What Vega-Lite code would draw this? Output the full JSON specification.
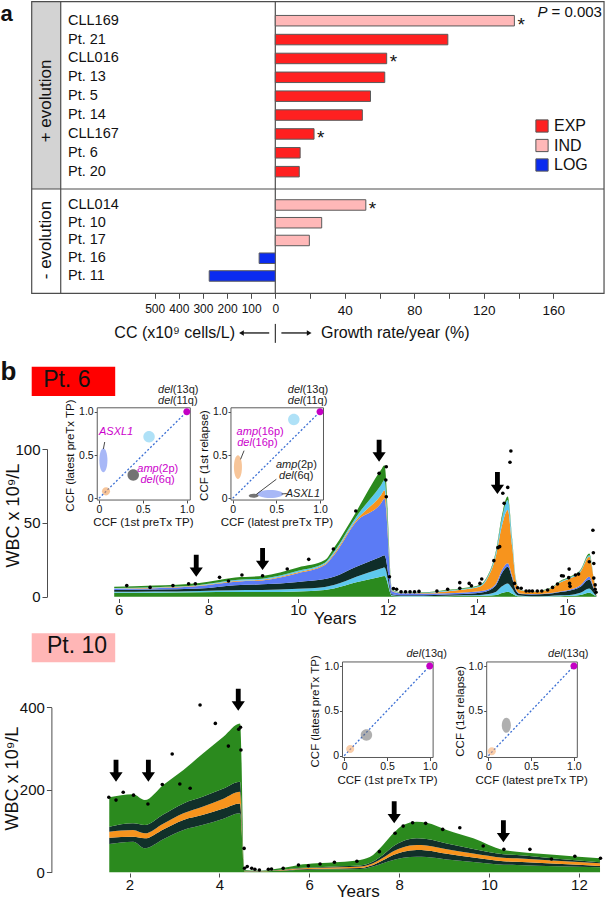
{
 "$schema": "https://vega.github.io/schema/vega-lite/v6.json",
 "width": 607, "height": 900,
 "autosize": {"type": "none"},
 "padding": 0,
 "background": "white",
 "config": {
   "view": {"stroke": null},
   "font": "Liberation Sans",
   "axis": {"grid": false, "domainColor": "#4d4d4d", "tickColor": "#4d4d4d", "labelColor": "#111111", "titleColor": "#111111", "titleFontWeight": "normal", "labelFont": "Liberation Sans", "titleFont": "Liberation Sans", "domainWidth": 1, "tickWidth": 1, "labelOverlap": false, "labelFlush": false},
   "text": {"color": "#111111"}
 },
 "datasets": {
   "rates": [
     {"name": "CLL169", "group": "+ evolution", "type": "IND", "growth": 137.6, "cc": null, "sig": "*"},
     {"name": "Pt. 21", "group": "+ evolution", "type": "EXP", "growth": 99.3, "cc": null, "sig": ""},
     {"name": "CLL016", "group": "+ evolution", "type": "EXP", "growth": 64.1, "cc": null, "sig": "*"},
     {"name": "Pt. 13", "group": "+ evolution", "type": "EXP", "growth": 63.0, "cc": null, "sig": ""},
     {"name": "Pt. 5", "group": "+ evolution", "type": "EXP", "growth": 54.8, "cc": null, "sig": ""},
     {"name": "Pt. 14", "group": "+ evolution", "type": "EXP", "growth": 50.1, "cc": null, "sig": ""},
     {"name": "CLL167", "group": "+ evolution", "type": "EXP", "growth": 22.3, "cc": null, "sig": "*"},
     {"name": "Pt. 6", "group": "+ evolution", "type": "EXP", "growth": 14.3, "cc": null, "sig": ""},
     {"name": "Pt. 20", "group": "+ evolution", "type": "EXP", "growth": 13.8, "cc": null, "sig": ""},
     {"name": "CLL014", "group": "- evolution", "type": "IND", "growth": 52.1, "cc": null, "sig": "*"},
     {"name": "Pt. 10", "group": "- evolution", "type": "IND", "growth": 26.7, "cc": null, "sig": ""},
     {"name": "Pt. 17", "group": "- evolution", "type": "IND", "growth": 19.6, "cc": null, "sig": ""},
     {"name": "Pt. 16", "group": "- evolution", "type": "LOG", "growth": null, "cc": 67, "sig": ""},
     {"name": "Pt. 11", "group": "- evolution", "type": "LOG", "growth": null, "cc": 274, "sig": ""}
   ],
   "pt6_clones": [
     {"t": 5.9, "L1": 2.6, "L2": 0.7, "L3": 1.2, "L4": 0.8, "L5": 0.2, "L6": 0.4, "L7": 0.9},
     {"t": 6.8, "L1": 2.7, "L2": 0.75, "L3": 1.35, "L4": 1.0, "L5": 0.2, "L6": 0.45, "L7": 1.05},
     {"t": 7.8, "L1": 3.0, "L2": 0.9, "L3": 1.6, "L4": 1.8, "L5": 0.2, "L6": 0.45, "L7": 1.35},
     {"t": 8.6, "L1": 3.2, "L2": 1.2, "L3": 3.4, "L4": 2.4, "L5": 0.4, "L6": 0.7, "L7": 1.7},
     {"t": 9.2, "L1": 3.2, "L2": 1.35, "L3": 3.8, "L4": 2.7, "L5": 0.45, "L6": 0.7, "L7": 1.8},
     {"t": 10.0, "L1": 3.6, "L2": 1.8, "L3": 4.6, "L4": 5.9, "L5": 0.6, "L6": 1.0, "L7": 2.3},
     {"t": 10.6, "L1": 4.6, "L2": 2.0, "L3": 5.3, "L4": 9.5, "L5": 0.7, "L6": 0.9, "L7": 1.8},
     {"t": 10.8, "L1": 5.6, "L2": 2.3, "L3": 5.6, "L4": 14.5, "L5": 1.1, "L6": 1.1, "L7": 2.8},
     {"t": 11.3, "L1": 9.7, "L2": 3.8, "L3": 6.8, "L4": 30.5, "L5": 1.1, "L6": 2.3, "L7": 3.4},
     {"t": 11.85, "L1": 13.5, "L2": 5.6, "L3": 7.9, "L4": 36.1, "L5": 5.6, "L6": 6.8, "L7": 10.2},
     {"t": 11.93, "L1": 14.0, "L2": 5.8, "L3": 8.2, "L4": 38.5, "L5": 5.5, "L6": 7.0, "L7": 10.0},
     {"t": 12.1, "L1": 0.5, "L2": 0.4, "L3": 0.8, "L4": 2.0, "L5": 0.3, "L6": 0.3, "L7": 0.5},
     {"t": 12.3, "L1": 0.2, "L2": 0.3, "L3": 0.5, "L4": 1.3, "L5": 0.2, "L6": 0.2, "L7": 0.3},
     {"t": 12.8, "L1": 0.2, "L2": 0.3, "L3": 0.5, "L4": 1.2, "L5": 0.3, "L6": 0.2, "L7": 0.3},
     {"t": 13.3, "L1": 0.3, "L2": 0.4, "L3": 0.8, "L4": 0.9, "L5": 1.2, "L6": 0.4, "L7": 0.5},
     {"t": 13.7, "L1": 0.4, "L2": 0.5, "L3": 1.0, "L4": 0.9, "L5": 2.0, "L6": 0.5, "L7": 0.6},
     {"t": 14.05, "L1": 0.5, "L2": 0.7, "L3": 1.5, "L4": 1.0, "L5": 3.0, "L6": 0.7, "L7": 0.5},
     {"t": 14.2, "L1": 0.6, "L2": 1.0, "L3": 2.0, "L4": 0.9, "L5": 6.5, "L6": 1.0, "L7": 0.5},
     {"t": 14.42, "L1": 1.1, "L2": 2.3, "L3": 4.5, "L4": 1.1, "L5": 19.2, "L6": 2.3, "L7": 1.1},
     {"t": 14.55, "L1": 2.5, "L2": 4.5, "L3": 9.0, "L4": 2.0, "L5": 30.0, "L6": 5.0, "L7": 2.0},
     {"t": 14.68, "L1": 3.4, "L2": 5.6, "L3": 11.3, "L4": 2.3, "L5": 36.1, "L6": 6.8, "L7": 2.3},
     {"t": 14.78, "L1": 2.0, "L2": 3.5, "L3": 7.0, "L4": 1.5, "L5": 20.0, "L6": 3.5, "L7": 1.5},
     {"t": 14.86, "L1": 0.7, "L2": 1.2, "L3": 2.5, "L4": 0.6, "L5": 6.0, "L6": 1.0, "L7": 0.5},
     {"t": 14.95, "L1": 0.3, "L2": 0.5, "L3": 1.0, "L4": 0.4, "L5": 2.3, "L6": 0.3, "L7": 0.2},
     {"t": 15.2, "L1": 0.1, "L2": 0.2, "L3": 1.2, "L4": 0.3, "L5": 1.5, "L6": 0.1, "L7": 0.1},
     {"t": 15.6, "L1": 0.2, "L2": 0.3, "L3": 1.5, "L4": 0.4, "L5": 2.5, "L6": 0.3, "L7": 0.3},
     {"t": 15.85, "L1": 0.3, "L2": 0.6, "L3": 2.2, "L4": 0.5, "L5": 6.0, "L6": 0.6, "L7": 0.5},
     {"t": 16.05, "L1": 0.4, "L2": 0.8, "L3": 2.8, "L4": 0.6, "L5": 7.5, "L6": 0.7, "L7": 0.5},
     {"t": 16.3, "L1": 1.2, "L2": 1.5, "L3": 4.0, "L4": 1.0, "L5": 9.0, "L6": 0.8, "L7": 0.5},
     {"t": 16.5, "L1": 2.7, "L2": 2.9, "L3": 6.1, "L4": 1.8, "L5": 13.5, "L6": 1.1, "L7": 1.1},
     {"t": 16.6, "L1": 1.2, "L2": 1.2, "L3": 3.0, "L4": 0.8, "L5": 6.0, "L6": 0.5, "L7": 0.5},
     {"t": 16.66, "L1": 0.1, "L2": 0.1, "L3": 0.2, "L4": 0.1, "L5": 0.3, "L6": 0.05, "L7": 0.05}
   ],
   "pt6_wbc": [
     {"t": 6.18, "wbc": 7.5}, {"t": 6.70, "wbc": 6.3}, {"t": 7.21, "wbc": 7.5}, {"t": 7.56, "wbc": 8.8}, {"t": 7.71, "wbc": 8.8},
     {"t": 8.25, "wbc": 13.1}, {"t": 8.45, "wbc": 10.6}, {"t": 8.75, "wbc": 14.7}, {"t": 9.21, "wbc": 14.2}, {"t": 9.76, "wbc": 18.8},
     {"t": 10.24, "wbc": 25.3}, {"t": 10.79, "wbc": 32.3}, {"t": 11.29, "wbc": 58}, {"t": 11.81, "wbc": 83.5}, {"t": 11.97, "wbc": 88},
     {"t": 11.96, "wbc": 79}, {"t": 11.97, "wbc": 67.7}, {"t": 12.04, "wbc": 13.5}, {"t": 12.13, "wbc": 5.6}, {"t": 12.2, "wbc": 5},
     {"t": 12.3, "wbc": 3.4}, {"t": 12.4, "wbc": 3.4}, {"t": 12.5, "wbc": 3.4}, {"t": 12.6, "wbc": 3.4}, {"t": 12.7, "wbc": 3.6},
     {"t": 13.1, "wbc": 3.8}, {"t": 13.34, "wbc": 5.0}, {"t": 13.61, "wbc": 5.7}, {"t": 13.61, "wbc": 9.5}, {"t": 13.82, "wbc": 9.0},
     {"t": 13.87, "wbc": 7.4}, {"t": 14.06, "wbc": 9.0}, {"t": 14.1, "wbc": 12}, {"t": 14.37, "wbc": 24.4}, {"t": 14.46, "wbc": 33.2},
     {"t": 14.5, "wbc": 33.9}, {"t": 14.57, "wbc": 70}, {"t": 14.6, "wbc": 63.2}, {"t": 14.68, "wbc": 74}, {"t": 14.73, "wbc": 91},
     {"t": 14.75, "wbc": 98.6}, {"t": 14.83, "wbc": 9}, {"t": 14.9, "wbc": 6.1}, {"t": 14.98, "wbc": 5.7}, {"t": 15.09, "wbc": 3.9},
     {"t": 15.16, "wbc": 3.9}, {"t": 15.23, "wbc": 3.9}, {"t": 15.34, "wbc": 3.9}, {"t": 15.44, "wbc": 3.9}, {"t": 15.57, "wbc": 4.5},
     {"t": 15.68, "wbc": 6.3}, {"t": 15.79, "wbc": 8.6}, {"t": 15.88, "wbc": 14.2}, {"t": 15.92, "wbc": 14.0}, {"t": 16.04, "wbc": 12.9},
     {"t": 16.05, "wbc": 18.7}, {"t": 16.06, "wbc": 9}, {"t": 16.07, "wbc": 7}, {"t": 16.19, "wbc": 14.7}, {"t": 16.26, "wbc": 15.3},
     {"t": 16.5, "wbc": 23.7}, {"t": 16.58, "wbc": 45}, {"t": 16.59, "wbc": 29.8}, {"t": 16.6, "wbc": 22.5}, {"t": 16.6, "wbc": 12.6},
     {"t": 16.63, "wbc": 8}, {"t": 16.63, "wbc": 5}, {"t": 16.65, "wbc": 3}
   ],
   "pt10_clones": [
     {"t": 1.55, "L1": 68.6, "L2": 15.4, "L3": 14.4, "L4": 12.1, "L5": 71.3},
     {"t": 2.08, "L1": 74.2, "L2": 12.1, "L3": 16.2, "L4": 16.3, "L5": 70.2},
     {"t": 2.34, "L1": 58.2, "L2": 24.2, "L3": 12.1, "L4": 20.2, "L5": 60.3},
     {"t": 2.75, "L1": 80, "L2": 24, "L3": 14, "L4": 22, "L5": 71.6},
     {"t": 3.2, "L1": 102.5, "L2": 24.5, "L3": 16, "L4": 24, "L5": 81},
     {"t": 3.64, "L1": 115, "L2": 24.5, "L3": 20, "L4": 24, "L5": 105},
     {"t": 4.09, "L1": 130, "L2": 24.5, "L3": 24, "L4": 24.5, "L5": 125.7},
     {"t": 4.46, "L1": 143, "L2": 24, "L3": 28, "L4": 24.6, "L5": 141.4},
     {"t": 4.56, "L1": 2, "L2": 0.5, "L3": 0.6, "L4": 0.5, "L5": 2},
     {"t": 4.9, "L1": 1.5, "L2": 0.4, "L3": 0.6, "L4": 0.4, "L5": 1.1},
     {"t": 5.2, "L1": 3, "L2": 0.6, "L3": 0.8, "L4": 0.6, "L5": 2.3},
     {"t": 5.5, "L1": 4, "L2": 1, "L3": 1.5, "L4": 1, "L5": 4.5},
     {"t": 5.76, "L1": 6, "L2": 1.2, "L3": 2, "L4": 1.2, "L5": 7.4},
     {"t": 6.17, "L1": 7, "L2": 1.5, "L3": 2.5, "L4": 1.5, "L5": 9.3},
     {"t": 6.68, "L1": 7.5, "L2": 2, "L3": 3, "L4": 2, "L5": 10.5},
     {"t": 7.13, "L1": 8, "L2": 2.5, "L3": 3.5, "L4": 2.5, "L5": 13.5},
     {"t": 7.42, "L1": 14, "L2": 4, "L3": 4, "L4": 4, "L5": 16},
     {"t": 7.64, "L1": 22, "L2": 7, "L3": 6, "L4": 7, "L5": 24},
     {"t": 7.87, "L1": 30, "L2": 12, "L3": 9, "L4": 12, "L5": 31.5},
     {"t": 8.09, "L1": 35, "L2": 15, "L3": 11, "L4": 15, "L5": 38.7},
     {"t": 8.39, "L1": 37.8, "L2": 16.2, "L3": 12, "L4": 16.4, "L5": 40.4},
     {"t": 8.61, "L1": 37, "L2": 16, "L3": 12, "L4": 16, "L5": 39},
     {"t": 9.06, "L1": 31, "L2": 14, "L3": 11, "L4": 14, "L5": 32.5},
     {"t": 9.65, "L1": 25, "L2": 11, "L3": 9.5, "L4": 11, "L5": 25.8},
     {"t": 10.32, "L1": 18.5, "L2": 8.5, "L3": 8.5, "L4": 8.5, "L5": 10},
     {"t": 10.62, "L1": 17.7, "L2": 8, "L3": 8.3, "L4": 8, "L5": 8},
     {"t": 11.51, "L1": 14.5, "L2": 6, "L3": 7.5, "L4": 5, "L5": 9},
     {"t": 12.47, "L1": 12, "L2": 3.3, "L3": 6.5, "L4": 2.4, "L5": 9.8}
   ],
   "pt10_wbc": [
     {"t": 1.54, "wbc": 181.8}, {"t": 1.70, "wbc": 175}, {"t": 1.86, "wbc": 194}, {"t": 2.09, "wbc": 187}, {"t": 2.41, "wbc": 165.6},
     {"t": 2.73, "wbc": 213}, {"t": 2.95, "wbc": 286.8}, {"t": 3.12, "wbc": 214}, {"t": 3.35, "wbc": 203.6}, {"t": 3.57, "wbc": 405.6},
     {"t": 3.91, "wbc": 361}, {"t": 4.2, "wbc": 306}, {"t": 4.43, "wbc": 346.7}, {"t": 4.47, "wbc": 351.5}, {"t": 4.48, "wbc": 296.5},
     {"t": 4.55, "wbc": 58}, {"t": 4.56, "wbc": 9.7}, {"t": 4.62, "wbc": 14}, {"t": 4.72, "wbc": 9.7}, {"t": 4.79, "wbc": 7.3},
     {"t": 4.89, "wbc": 5.6}, {"t": 5.09, "wbc": 7.3}, {"t": 5.16, "wbc": 8}, {"t": 5.42, "wbc": 9.7}, {"t": 5.76, "wbc": 17.8},
     {"t": 5.98, "wbc": 16}, {"t": 6.24, "wbc": 20}, {"t": 6.56, "wbc": 24.2}, {"t": 7.06, "wbc": 26.7}, {"t": 7.56, "wbc": 50},
     {"t": 7.91, "wbc": 94.5}, {"t": 8.09, "wbc": 112}, {"t": 8.3, "wbc": 120}, {"t": 8.59, "wbc": 118.7}, {"t": 8.97, "wbc": 104},
     {"t": 9.35, "wbc": 108}, {"t": 9.87, "wbc": 63.8}, {"t": 10.33, "wbc": 55.6}, {"t": 10.91, "wbc": 55.6}, {"t": 11.39, "wbc": 32.3},
     {"t": 11.91, "wbc": 38.8}, {"t": 12.48, "wbc": 34}
   ],
   "arrows": [
     {"patient": "Pt. 6", "t": 7.73, "tip": 13.5}, {"patient": "Pt. 6", "t": 9.21, "tip": 18}, {"patient": "Pt. 6", "t": 11.81, "tip": 91.4}, {"patient": "Pt. 6", "t": 14.45, "tip": 69.5},
     {"patient": "Pt. 10", "t": 1.7, "tip": 219.6}, {"patient": "Pt. 10", "t": 2.42, "tip": 219.6}, {"patient": "Pt. 10", "t": 4.42, "tip": 391.8}, {"patient": "Pt. 10", "t": 7.89, "tip": 118.7}, {"patient": "Pt. 10", "t": 10.32, "tip": 72.7}
   ],
   "blobs": [
     {"inset": "I1", "clone": "del(13q)/del(11q)", "x": 1, "y": 1, "spread": "clonal"},
     {"inset": "I1", "clone": "ASXL1", "x": 0.05, "y": 0.44, "spread": "vertical"},
     {"inset": "I1", "clone": "subclone", "x": 0.57, "y": 0.71, "spread": "round"},
     {"inset": "I1", "clone": "amp(2p)/del(6q)", "x": 0.39, "y": 0.27, "spread": "round"},
     {"inset": "I1", "clone": "amp(16p)/del(16p)", "x": 0.08, "y": 0.08, "spread": "small"},
     {"inset": "I2", "clone": "del(13q)/del(11q)", "x": 1, "y": 1, "spread": "clonal"},
     {"inset": "I2", "clone": "subclone", "x": 0.70, "y": 0.91, "spread": "round"},
     {"inset": "I2", "clone": "amp(16p)/del(16p)", "x": 0.06, "y": 0.36, "spread": "vertical"},
     {"inset": "I2", "clone": "ASXL1", "x": 0.43, "y": 0.05, "spread": "horizontal"},
     {"inset": "I2", "clone": "amp(2p)/del(6q)", "x": 0.24, "y": 0.03, "spread": "tiny"},
     {"inset": "I3", "clone": "del(13q)", "x": 1, "y": 1, "spread": "clonal"},
     {"inset": "I3", "clone": "Pt. 10 subclone", "x": 0.26, "y": 0.23, "spread": "round"},
     {"inset": "I3", "clone": "Pt. 10 minor subclone", "x": 0.07, "y": 0.075, "spread": "small"},
     {"inset": "I4", "clone": "del(13q)", "x": 1, "y": 1, "spread": "clonal"},
     {"inset": "I4", "clone": "Pt. 10 subclone", "x": 0.21, "y": 0.34, "spread": "oval"},
     {"inset": "I4", "clone": "Pt. 10 minor subclone", "x": 0.04, "y": 0.05, "spread": "small"}
   ],
   "labels": [
     {"inset": "I1", "x": 0.39, "y": 0.76, "it": "ASXL1", "rest": "", "hl": "changed"},
     {"inset": "I1", "x": 0.68, "y": 0.34, "it": "amp", "rest": "(2p)", "hl": "changed"},
     {"inset": "I1", "x": 0.64, "y": 0.215, "it": "del", "rest": "(6q)", "hl": "changed"},
     {"inset": "I1", "x": 0.84, "y": 1.25, "it": "del", "rest": "(13q)", "hl": "stable"},
     {"inset": "I1", "x": 0.84, "y": 1.12, "it": "del", "rest": "(11q)", "hl": "stable"},
     {"inset": "I2", "x": 0.29, "y": 0.77, "it": "amp", "rest": "(16p)", "hl": "changed"},
     {"inset": "I2", "x": 0.22, "y": 0.64, "it": "del", "rest": "(16p)", "hl": "changed"},
     {"inset": "I2", "x": 0.74, "y": 0.38, "it": "amp", "rest": "(2p)", "hl": "stable"},
     {"inset": "I2", "x": 0.7, "y": 0.255, "it": "del", "rest": "(6q)", "hl": "stable"},
     {"inset": "I2", "x": 1.0, "y": 0.05, "it": "ASXL1", "rest": "", "hl": "stable"},
     {"inset": "I2", "x": 0.8, "y": 1.25, "it": "del", "rest": "(13q)", "hl": "stable"},
     {"inset": "I2", "x": 0.8, "y": 1.12, "it": "del", "rest": "(11q)", "hl": "stable"},
     {"inset": "I3", "x": 0.9, "y": 1.13, "it": "del", "rest": "(13q)", "hl": "stable"},
     {"inset": "I4", "x": 0.87, "y": 1.13, "it": "del", "rest": "(13q)", "hl": "stable"}
   ],
   "leaders": [
     {"inset": "I1", "x": 0.065, "y": 0.65, "x2": 0.05, "y2": 0.57},
     {"inset": "I2", "x": 0.13, "y": 0.55, "x2": 0.09, "y2": 0.45},
     {"inset": "I2", "x": 0.27, "y": 0.045, "x2": 0.5, "y2": 0.22},
     {"inset": "I2", "x": 0.62, "y": 0.055, "x2": 0.56, "y2": 0.05}
   ]
 },
 "resolve": {"scale": {"x": "independent", "y": "independent", "color": "independent", "fill": "independent", "shape": "independent"}},
 "layer": [
  {
   "data": {"values": [{}]},
   "layer": [
    {"mark": {"type": "rect", "fill": "#d3d3d3"},
     "encoding": {"x": {"datum": -140.2, "type": "quantitative", "scale": {"domain": [0, 160], "range": [275.3, 553.3], "nice": false, "zero": false}, "axis": null},
                  "x2": {"datum": -123.5},
                  "y": {"datum": 0.3577, "type": "quantitative", "scale": {"domain": [0, 1], "range": [293.3, 1.7], "nice": false, "zero": false}, "axis": null},
                  "y2": {"datum": 1}}},
    {"mark": {"type": "rect", "filled": false, "stroke": "#4d4d4d", "strokeWidth": 1.2},
     "encoding": {"x": {"datum": -140.2}, "x2": {"datum": 189.2}, "y": {"datum": 0}, "y2": {"datum": 1}}},
    {"mark": {"type": "rule", "color": "#4d4d4d", "strokeWidth": 1.2},
     "encoding": {"x": {"datum": -123.5}, "y": {"datum": 0}, "y2": {"datum": 1}}},
    {"mark": {"type": "rule", "color": "#4d4d4d", "strokeWidth": 1.2},
     "encoding": {"x": {"datum": 0}, "y": {"datum": 0}, "y2": {"datum": 1}}},
    {"mark": {"type": "rule", "color": "#4d4d4d", "strokeWidth": 1.2},
     "encoding": {"x": {"datum": -140.2}, "x2": {"datum": 189.2}, "y": {"datum": 0.3577}}},
    {"mark": {"type": "rule", "color": "#111111", "strokeWidth": 1},
     "encoding": {"x": {"datum": 0}, "y": {"datum": -0.105}, "y2": {"datum": -0.17}}},
    {"mark": {"type": "rule", "color": "#111111", "strokeWidth": 1.3},
     "encoding": {"x": {"datum": -18.5}, "x2": {"datum": -3.5}, "y": {"datum": -0.136}}},
    {"mark": {"type": "rule", "color": "#111111", "strokeWidth": 1.3},
     "encoding": {"x": {"datum": 3.5}, "x2": {"datum": 18.5}, "y": {"datum": -0.136}}},
    {"mark": {"type": "point", "shape": "triangle-left", "size": 30, "filled": true, "color": "#111111", "opacity": 1},
     "encoding": {"x": {"datum": -19.5}, "y": {"datum": -0.136}}},
    {"mark": {"type": "point", "shape": "triangle-right", "size": 30, "filled": true, "color": "#111111", "opacity": 1},
     "encoding": {"x": {"datum": 19.5}, "y": {"datum": -0.136}}},
    {"mark": {"type": "text", "text": "a", "fontSize": 22, "fontWeight": "bold", "align": "left", "baseline": "alphabetic"},
     "encoding": {"x": {"datum": -158.2}, "y": {"datum": 0.9338}}},
    {"mark": {"type": "text", "text": "+ evolution", "fontSize": 17, "angle": 270, "align": "center", "baseline": "middle"},
     "encoding": {"x": {"datum": -132}, "y": {"datum": 0.6595}}},
    {"mark": {"type": "text", "text": "- evolution", "fontSize": 17, "angle": 270, "align": "center", "baseline": "middle"},
     "encoding": {"x": {"datum": -132}, "y": {"datum": 0.1828}}},
    {"mark": {"type": "text", "text": "CC (x10⁹ cells/L)", "fontSize": 16, "align": "right", "baseline": "middle"},
     "encoding": {"x": {"datum": -23.2}, "y": {"datum": -0.136}}},
    {"mark": {"type": "text", "text": "Growth rate/year (%)", "fontSize": 16, "align": "left", "baseline": "middle"},
     "encoding": {"x": {"datum": 26.3}, "y": {"datum": -0.136}}},
    {"mark": {"type": "text", "text": "= 0.003", "fontSize": 15, "align": "right", "baseline": "middle"},
     "encoding": {"x": {"datum": 188}, "y": {"datum": 0.9647}}},
    {"mark": {"type": "text", "text": "P", "fontSize": 15, "fontStyle": "italic", "align": "right", "baseline": "middle"},
     "encoding": {"x": {"datum": 156.6}, "y": {"datum": 0.9647}}}
   ]
  },
  {
   "data": {"name": "rates"},
   "transform": [{"filter": "datum.group == '+ evolution'"}],
   "encoding": {"y": {"field": "name", "type": "nominal", "scale": {"type": "band", "domain": ["CLL169", "Pt. 21", "CLL016", "Pt. 13", "Pt. 5", "Pt. 14", "CLL167", "Pt. 6", "Pt. 20"], "range": [11.26, 181.1], "paddingInner": 0, "paddingOuter": 0}, "axis": null}},
   "layer": [
    {"mark": {"type": "bar", "size": 10.5, "stroke": "#5a5a5a", "strokeWidth": 1},
     "encoding": {
       "x": {"field": "growth", "type": "quantitative", "scale": {"domain": [0, 160], "range": [275.3, 553.3], "nice": false, "zero": false},
             "axis": {"orient": "bottom", "offset": -606.7, "values": [20, 40, 60, 80, 100, 120, 140, 160], "labelExpr": "datum.value % 40 == 0 ? datum.label : ''", "domain": false, "tickSize": 5, "labelFontSize": 13.5, "labelPadding": 5, "title": null}},
       "color": {"field": "type", "type": "nominal", "scale": {"domain": ["EXP", "IND", "LOG"], "range": ["#ff2020", "#ffb8b8", "#0a2bf0"]},
                 "legend": {"orient": "none", "legendX": 534, "legendY": 118, "title": null, "symbolType": "square", "symbolSize": 150, "symbolStrokeColor": "#555555", "symbolStrokeWidth": 1, "labelFontSize": 16, "labelOffset": 4, "rowPadding": 1.5, "padding": 0, "labelColor": "#111111"}}}},
    {"mark": {"type": "text", "align": "left", "baseline": "middle", "fontSize": 14.5},
     "encoding": {"x": {"datum": -119.3}, "text": {"field": "name"}}},
    {"mark": {"type": "text", "align": "left", "baseline": "middle", "dx": 3, "dy": 4, "fontSize": 19},
     "encoding": {"x": {"field": "growth", "type": "quantitative"}, "text": {"field": "sig"}}}
   ]
  },
  {
   "data": {"name": "rates"},
   "transform": [{"filter": "datum.group == '- evolution'"}],
   "encoding": {"y": {"field": "name", "type": "nominal", "scale": {"type": "band", "domain": ["CLL014", "Pt. 10", "Pt. 17", "Pt. 16", "Pt. 11"], "range": [196.1, 284.85], "paddingInner": 0, "paddingOuter": 0}, "axis": null}},
   "layer": [
    {"transform": [{"filter": "isValid(datum.growth)"}],
     "mark": {"type": "bar", "size": 10.5, "stroke": "#5a5a5a", "strokeWidth": 1},
     "encoding": {
       "x": {"field": "growth", "type": "quantitative", "scale": {"domain": [0, 160], "range": [275.3, 553.3], "nice": false, "zero": false}, "axis": null},
       "color": {"field": "type", "type": "nominal", "scale": {"domain": ["EXP", "IND", "LOG"], "range": ["#ff2020", "#ffb8b8", "#0a2bf0"]}, "legend": null}}},
    {"mark": {"type": "text", "align": "left", "baseline": "middle", "fontSize": 14.5},
     "encoding": {"x": {"datum": -119.3}, "text": {"field": "name"}}},
    {"transform": [{"filter": "isValid(datum.growth)"}],
     "mark": {"type": "text", "align": "left", "baseline": "middle", "dx": 3, "dy": 4, "fontSize": 19},
     "encoding": {"x": {"field": "growth", "type": "quantitative"}, "text": {"field": "sig"}}}
   ]
  },
  {
   "data": {"name": "rates"},
   "transform": [{"filter": "isValid(datum.cc)"}],
   "mark": {"type": "bar", "size": 10.5, "stroke": "#5a5a5a", "strokeWidth": 1},
   "encoding": {
     "y": {"field": "name", "type": "nominal", "scale": {"type": "band", "domain": ["CLL014", "Pt. 10", "Pt. 17", "Pt. 16", "Pt. 11"], "range": [196.1, 284.85], "paddingInner": 0, "paddingOuter": 0}, "axis": null},
     "x": {"field": "cc", "type": "quantitative", "scale": {"domain": [0, 500], "range": [275.3, 154.7], "nice": false, "zero": false},
           "axis": {"orient": "bottom", "offset": -606.7, "values": [0, 100, 200, 300, 400, 500], "domain": false, "tickSize": 5, "labelFontSize": 12, "labelPadding": 5, "labelOverlap": false, "labelFlush": false, "title": null}},
     "color": {"field": "type", "type": "nominal", "scale": {"domain": ["EXP", "IND", "LOG"], "range": ["#ff2020", "#ffb8b8", "#0a2bf0"]}, "legend": null}}
  },
  {
   "layer": [
    {"data": {"name": "pt6_clones"},
     "transform": [{"fold": ["L1", "L2", "L3", "L4", "L5", "L6", "L7"], "as": ["band", "v"]}],
     "mark": {"type": "area", "interpolate": "monotone"},
     "encoding": {
       "x": {"field": "t", "type": "quantitative", "scale": {"domain": [6, 16], "range": [118.7, 566.9], "nice": false, "zero": false},
             "axis": {"orient": "bottom", "offset": -301.5, "values": [6, 8, 10, 12, 14, 16], "format": "d", "domain": false, "tickSize": 4, "labelFontSize": 15, "labelPadding": 0, "title": "Years", "titleFontSize": 17, "titleX": 334.5, "titleY": 12, "titleBaseline": "top"}},
       "y": {"field": "v", "type": "quantitative", "stack": "zero", "scale": {"domain": [0, 100], "range": [596.7, 449], "nice": false, "zero": false},
             "axis": {"orient": "left", "offset": -47, "values": [0, 50, 100], "tickSize": 5, "labelFontSize": 15, "labelPadding": 2, "title": "WBC x 10⁹/L", "titleFontSize": 18, "titleX": -34, "titleY": 515, "titleBaseline": "middle", "titleAngle": 270}},
       "order": {"field": "band", "type": "ordinal", "sort": "ascending"},
       "color": {"field": "band", "type": "nominal",
                 "scale": {"domain": ["L1", "L2", "L3", "L4", "L5", "L6", "L7"], "range": ["#2b8a1e", "#5ec8ee", "#0f2d29", "#5b7bf5", "#f7941d", "#5ec8ee", "#2b8a1e"]}, "legend": null}}},
    {"data": {"name": "pt6_wbc"},
     "mark": {"type": "circle", "size": 13, "color": "#000000", "opacity": 1},
     "encoding": {"x": {"field": "t", "type": "quantitative"}, "y": {"field": "wbc", "type": "quantitative"}}},
    {"data": {"name": "arrows"},
     "transform": [{"filter": "datum.patient == 'Pt. 6'"}],
     "mark": {"type": "point", "shape": "M-0.22,-1L0.22,-1L0.22,0.15L0.6,0.15L0,1L-0.6,0.15L-0.22,0.15Z", "size": 484, "filled": true, "color": "#000000", "opacity": 1, "yOffset": -11},
     "encoding": {"x": {"field": "t", "type": "quantitative"}, "y": {"field": "tip", "type": "quantitative"}}},
    {"data": {"values": [{}]},
     "mark": {"type": "rect", "fill": "#ff0000"},
     "encoding": {"x": {"datum": 4.059}, "x2": {"datum": 5.922}, "y": {"datum": 135.9}, "y2": {"datum": 155.7}}},
    {"data": {"values": [{}]},
     "mark": {"type": "text", "text": "Pt. 6", "fontSize": 23, "align": "center", "baseline": "middle"},
     "encoding": {"x": {"datum": 4.842}, "y": {"datum": 146.7}}},
    {"data": {"values": [{}]},
     "mark": {"type": "text", "text": "b", "fontSize": 26, "fontWeight": "bold", "align": "left", "baseline": "alphabetic"},
     "encoding": {"x": {"datum": 3.363}, "y": {"datum": 146.8}}}
   ]
  },
  {
   "layer": [
    {"data": {"name": "pt10_clones"},
     "transform": [{"fold": ["L1", "L2", "L3", "L4", "L5"], "as": ["band", "v"]}],
     "mark": {"type": "area", "interpolate": "monotone"},
     "encoding": {
       "x": {"field": "t", "type": "quantitative", "scale": {"domain": [2, 12], "range": [129.5, 578.9], "nice": false, "zero": false},
             "axis": {"orient": "bottom", "offset": -27, "values": [2, 4, 6, 8, 10, 12], "format": "d", "domain": false, "tickSize": 4, "labelFontSize": 15, "labelPadding": 0, "title": "Years", "titleFontSize": 17, "titleX": 357.7, "titleY": 10, "titleBaseline": "top"}},
       "y": {"field": "v", "type": "quantitative", "stack": "zero", "scale": {"domain": [0, 400], "range": [872.3, 707.3], "nice": false, "zero": false},
             "axis": {"orient": "left", "offset": -51.4, "values": [0, 200, 400], "tickSize": 5, "labelFontSize": 15, "labelPadding": 2, "title": "WBC x 10⁹/L", "titleFontSize": 18, "titleX": -38.9, "titleY": 778, "titleBaseline": "middle", "titleAngle": 270}},
       "order": {"field": "band", "type": "ordinal", "sort": "ascending"},
       "color": {"field": "band", "type": "nominal",
                 "scale": {"domain": ["L1", "L2", "L3", "L4", "L5"], "range": ["#2b8a1e", "#11302a", "#f7941d", "#11302a", "#2b8a1e"]}, "legend": null}}},
    {"data": {"name": "pt10_wbc"},
     "mark": {"type": "circle", "size": 13, "color": "#000000", "opacity": 1},
     "encoding": {"x": {"field": "t", "type": "quantitative"}, "y": {"field": "wbc", "type": "quantitative"}}},
    {"data": {"name": "arrows"},
     "transform": [{"filter": "datum.patient == 'Pt. 10'"}],
     "mark": {"type": "point", "shape": "M-0.22,-1L0.22,-1L0.22,0.15L0.6,0.15L0,1L-0.6,0.15L-0.22,0.15Z", "size": 484, "filled": true, "color": "#000000", "opacity": 1, "yOffset": -11},
     "encoding": {"x": {"field": "t", "type": "quantitative"}, "y": {"field": "tip", "type": "quantitative"}}},
    {"data": {"values": [{}]},
     "mark": {"type": "rect", "fill": "#ffb6b6"},
     "encoding": {"x": {"datum": -0.176}, "x2": {"datum": 1.682}, "y": {"datum": 509.1}, "y2": {"datum": 579.4}}},
    {"data": {"values": [{}]},
     "mark": {"type": "text", "text": "Pt. 10", "fontSize": 23, "align": "center", "baseline": "middle"},
     "encoding": {"x": {"datum": 0.832}, "y": {"datum": 549}}}
   ]
  },
  {
   "layer": [
    {"data": {"values": [{}]}, "mark": {"type": "rect", "fill": "white", "stroke": "#5a5a5a", "strokeWidth": 1},
     "encoding": {
       "x": {"datum": -0.02, "type": "quantitative", "scale": {"domain": [0, 1], "range": [99, 186.8], "nice": false, "zero": false},
             "axis": {"orient": "bottom", "offset": -400, "values": [0, 0.5, 1], "labelExpr": "datum.value == 0 ? '0' : format(datum.value, '.1f')", "domain": false, "tickSize": 3, "labelFontSize": 10.5, "labelPadding": 1, "title": "CCF (1st preTx TP)", "titleFontSize": 11.5, "titlePadding": 2}},
       "x2": {"datum": 1.04},
       "y": {"datum": -0.02, "type": "quantitative", "scale": {"domain": [0, 1], "range": [498.3, 411.7], "nice": false, "zero": false},
             "axis": {"orient": "left", "offset": -97.2, "values": [0, 0.5, 1], "labelExpr": "datum.value == 0 ? '0' : format(datum.value, '.1f')", "domain": false, "tickSize": 3, "labelFontSize": 10.5, "labelPadding": 1, "title": "CCF (latest preTx TP)", "titleFontSize": 11.5, "titlePadding": 3}},
       "y2": {"datum": 1.045}}},
    {"data": {"values": [{}]}, "mark": {"type": "rule", "color": "#3b6fd4", "strokeDash": [2, 2], "strokeWidth": 1.3},
     "encoding": {"x": {"datum": 0}, "y": {"datum": 0}, "x2": {"datum": 1}, "y2": {"datum": 1}}},
    {"data": {"name": "blobs"}, "transform": [{"filter": "datum.inset == 'I1'"}],
     "mark": {"type": "point", "filled": true, "size": 676, "strokeWidth": 0, "opacity": 1},
     "encoding": {"x": {"field": "x", "type": "quantitative"}, "y": {"field": "y", "type": "quantitative"},
       "fill": {"field": "clone", "type": "nominal", "scale": {"domain": ["del(13q)/del(11q)", "ASXL1", "amp(16p)/del(16p)", "amp(2p)/del(6q)", "subclone", "del(13q)", "Pt. 10 subclone", "Pt. 10 minor subclone"], "range": ["#c400c4", "rgba(96,126,240,0.55)", "rgba(240,150,70,0.55)", "rgba(40,40,40,0.65)", "rgba(110,200,240,0.55)", "#c400c4", "rgba(110,110,110,0.55)", "rgba(245,165,100,0.55)"]}, "legend": null},
       "shape": {"field": "spread", "type": "nominal", "scale": {"domain": ["clonal", "round", "small", "vertical", "horizontal", "tiny", "oval"], "range": ["M-0.27,0A0.27,0.27,0,1,0,0.27,0A0.27,0.27,0,1,0,-0.27,0Z", "M-0.44,0A0.44,0.44,0,1,0,0.44,0A0.44,0.44,0,1,0,-0.44,0Z", "M-0.31,0A0.31,0.31,0,1,0,0.31,0A0.31,0.31,0,1,0,-0.31,0Z", "M-0.31,0A0.31,0.92,0,1,0,0.31,0A0.31,0.92,0,1,0,-0.31,0Z", "M-1,0A1,0.31,0,1,0,1,0A1,0.31,0,1,0,-1,0Z", "M-0.38,0A0.38,0.15,0,1,0,0.38,0A0.38,0.15,0,1,0,-0.38,0Z", "M-0.35,0A0.35,0.58,0,1,0,0.35,0A0.35,0.58,0,1,0,-0.35,0Z"]}, "legend": null}}},
    {"data": {"name": "leaders"}, "transform": [{"filter": "datum.inset == 'I1'"}],
     "mark": {"type": "rule", "color": "#333333", "strokeWidth": 0.9},
     "encoding": {"x": {"field": "x", "type": "quantitative"}, "y": {"field": "y", "type": "quantitative"}, "x2": {"field": "x2"}, "y2": {"field": "y2"}}},
    {"data": {"name": "labels"}, "transform": [{"filter": "datum.inset == 'I1'"}],
     "mark": {"type": "text", "align": "right", "baseline": "middle", "fontStyle": "italic", "fontSize": 11},
     "encoding": {"x": {"field": "x", "type": "quantitative"}, "y": {"field": "y", "type": "quantitative"}, "text": {"field": "it"},
       "color": {"field": "hl", "type": "nominal", "scale": {"domain": ["changed", "stable"], "range": ["#cc00cc", "#222222"]}, "legend": null}}},
    {"data": {"name": "labels"}, "transform": [{"filter": "datum.inset == 'I1'"}],
     "mark": {"type": "text", "align": "left", "baseline": "middle", "fontSize": 11},
     "encoding": {"x": {"field": "x", "type": "quantitative"}, "y": {"field": "y", "type": "quantitative"}, "text": {"field": "rest"},
       "color": {"field": "hl", "type": "nominal", "scale": {"domain": ["changed", "stable"], "range": ["#cc00cc", "#222222"]}, "legend": null}}}
   ]
  },
  {
   "layer": [
    {"data": {"values": [{}]}, "mark": {"type": "rect", "fill": "white", "stroke": "#5a5a5a", "strokeWidth": 1},
     "encoding": {
       "x": {"datum": -0.02, "type": "quantitative", "scale": {"domain": [0, 1], "range": [232.7, 320], "nice": false, "zero": false},
             "axis": {"orient": "bottom", "offset": -400, "values": [0, 0.5, 1], "labelExpr": "datum.value == 0 ? '0' : format(datum.value, '.1f')", "domain": false, "tickSize": 3, "labelFontSize": 10.5, "labelPadding": 1, "title": "CCF (latest preTx TP)", "titleFontSize": 11.5, "titlePadding": 2}},
       "x2": {"datum": 1.04},
       "y": {"datum": -0.02, "type": "quantitative", "scale": {"domain": [0, 1], "range": [498.3, 411.7], "nice": false, "zero": false},
             "axis": {"orient": "left", "offset": -231, "values": [0, 0.5, 1], "labelExpr": "datum.value == 0 ? '0' : format(datum.value, '.1f')", "domain": false, "tickSize": 3, "labelFontSize": 10.5, "labelPadding": 1, "title": "CCF (1st relapse)", "titleFontSize": 11.5, "titlePadding": 3}},
       "y2": {"datum": 1.045}}},
    {"data": {"values": [{}]}, "mark": {"type": "rule", "color": "#3b6fd4", "strokeDash": [2, 2], "strokeWidth": 1.3},
     "encoding": {"x": {"datum": 0}, "y": {"datum": 0}, "x2": {"datum": 1}, "y2": {"datum": 1}}},
    {"data": {"name": "blobs"}, "transform": [{"filter": "datum.inset == 'I2'"}],
     "mark": {"type": "point", "filled": true, "size": 676, "strokeWidth": 0, "opacity": 1},
     "encoding": {"x": {"field": "x", "type": "quantitative"}, "y": {"field": "y", "type": "quantitative"},
       "fill": {"field": "clone", "type": "nominal", "scale": {"domain": ["del(13q)/del(11q)", "ASXL1", "amp(16p)/del(16p)", "amp(2p)/del(6q)", "subclone", "del(13q)", "Pt. 10 subclone", "Pt. 10 minor subclone"], "range": ["#c400c4", "rgba(96,126,240,0.55)", "rgba(240,150,70,0.55)", "rgba(40,40,40,0.65)", "rgba(110,200,240,0.55)", "#c400c4", "rgba(110,110,110,0.55)", "rgba(245,165,100,0.55)"]}, "legend": null},
       "shape": {"field": "spread", "type": "nominal", "scale": {"domain": ["clonal", "round", "small", "vertical", "horizontal", "tiny", "oval"], "range": ["M-0.27,0A0.27,0.27,0,1,0,0.27,0A0.27,0.27,0,1,0,-0.27,0Z", "M-0.44,0A0.44,0.44,0,1,0,0.44,0A0.44,0.44,0,1,0,-0.44,0Z", "M-0.31,0A0.31,0.31,0,1,0,0.31,0A0.31,0.31,0,1,0,-0.31,0Z", "M-0.31,0A0.31,0.92,0,1,0,0.31,0A0.31,0.92,0,1,0,-0.31,0Z", "M-1,0A1,0.31,0,1,0,1,0A1,0.31,0,1,0,-1,0Z", "M-0.38,0A0.38,0.15,0,1,0,0.38,0A0.38,0.15,0,1,0,-0.38,0Z", "M-0.35,0A0.35,0.58,0,1,0,0.35,0A0.35,0.58,0,1,0,-0.35,0Z"]}, "legend": null}}},
    {"data": {"name": "leaders"}, "transform": [{"filter": "datum.inset == 'I2'"}],
     "mark": {"type": "rule", "color": "#333333", "strokeWidth": 0.9},
     "encoding": {"x": {"field": "x", "type": "quantitative"}, "y": {"field": "y", "type": "quantitative"}, "x2": {"field": "x2"}, "y2": {"field": "y2"}}},
    {"data": {"name": "labels"}, "transform": [{"filter": "datum.inset == 'I2'"}],
     "mark": {"type": "text", "align": "right", "baseline": "middle", "fontStyle": "italic", "fontSize": 11},
     "encoding": {"x": {"field": "x", "type": "quantitative"}, "y": {"field": "y", "type": "quantitative"}, "text": {"field": "it"},
       "color": {"field": "hl", "type": "nominal", "scale": {"domain": ["changed", "stable"], "range": ["#cc00cc", "#222222"]}, "legend": null}}},
    {"data": {"name": "labels"}, "transform": [{"filter": "datum.inset == 'I2'"}],
     "mark": {"type": "text", "align": "left", "baseline": "middle", "fontSize": 11},
     "encoding": {"x": {"field": "x", "type": "quantitative"}, "y": {"field": "y", "type": "quantitative"}, "text": {"field": "rest"},
       "color": {"field": "hl", "type": "nominal", "scale": {"domain": ["changed", "stable"], "range": ["#cc00cc", "#222222"]}, "legend": null}}}
   ]
  },
  {
   "layer": [
    {"data": {"values": [{}]}, "mark": {"type": "rect", "fill": "white", "stroke": "#5a5a5a", "strokeWidth": 1},
     "encoding": {
       "x": {"datum": -0.02, "type": "quantitative", "scale": {"domain": [0, 1], "range": [344.2, 429.7], "nice": false, "zero": false},
             "axis": {"orient": "bottom", "offset": -142.5, "values": [0, 0.5, 1], "labelExpr": "datum.value == 0 ? '0' : format(datum.value, '.1f')", "domain": false, "tickSize": 3, "labelFontSize": 10.5, "labelPadding": 1, "title": "CCF (1st preTx TP)", "titleFontSize": 11.5, "titlePadding": 2}},
       "x2": {"datum": 1.04},
       "y": {"datum": -0.02, "type": "quantitative", "scale": {"domain": [0, 1], "range": [755.7, 666], "nice": false, "zero": false},
             "axis": {"orient": "left", "offset": -342.5, "values": [0, 0.5, 1], "labelExpr": "datum.value == 0 ? '0' : format(datum.value, '.1f')", "domain": false, "tickSize": 3, "labelFontSize": 10.5, "labelPadding": 1, "title": "CCF (latest preTx TP)", "titleFontSize": 11.5, "titlePadding": 3}},
       "y2": {"datum": 1.045}}},
    {"data": {"values": [{}]}, "mark": {"type": "rule", "color": "#3b6fd4", "strokeDash": [2, 2], "strokeWidth": 1.3},
     "encoding": {"x": {"datum": 0}, "y": {"datum": 0}, "x2": {"datum": 1}, "y2": {"datum": 1}}},
    {"data": {"name": "blobs"}, "transform": [{"filter": "datum.inset == 'I3'"}],
     "mark": {"type": "point", "filled": true, "size": 676, "strokeWidth": 0, "opacity": 1},
     "encoding": {"x": {"field": "x", "type": "quantitative"}, "y": {"field": "y", "type": "quantitative"},
       "fill": {"field": "clone", "type": "nominal", "scale": {"domain": ["del(13q)/del(11q)", "ASXL1", "amp(16p)/del(16p)", "amp(2p)/del(6q)", "subclone", "del(13q)", "Pt. 10 subclone", "Pt. 10 minor subclone"], "range": ["#c400c4", "rgba(96,126,240,0.55)", "rgba(240,150,70,0.55)", "rgba(40,40,40,0.65)", "rgba(110,200,240,0.55)", "#c400c4", "rgba(110,110,110,0.55)", "rgba(245,165,100,0.55)"]}, "legend": null},
       "shape": {"field": "spread", "type": "nominal", "scale": {"domain": ["clonal", "round", "small", "vertical", "horizontal", "tiny", "oval"], "range": ["M-0.27,0A0.27,0.27,0,1,0,0.27,0A0.27,0.27,0,1,0,-0.27,0Z", "M-0.44,0A0.44,0.44,0,1,0,0.44,0A0.44,0.44,0,1,0,-0.44,0Z", "M-0.31,0A0.31,0.31,0,1,0,0.31,0A0.31,0.31,0,1,0,-0.31,0Z", "M-0.31,0A0.31,0.92,0,1,0,0.31,0A0.31,0.92,0,1,0,-0.31,0Z", "M-1,0A1,0.31,0,1,0,1,0A1,0.31,0,1,0,-1,0Z", "M-0.38,0A0.38,0.15,0,1,0,0.38,0A0.38,0.15,0,1,0,-0.38,0Z", "M-0.35,0A0.35,0.58,0,1,0,0.35,0A0.35,0.58,0,1,0,-0.35,0Z"]}, "legend": null}}},
    {"data": {"name": "labels"}, "transform": [{"filter": "datum.inset == 'I3'"}],
     "mark": {"type": "text", "align": "right", "baseline": "middle", "fontStyle": "italic", "fontSize": 11},
     "encoding": {"x": {"field": "x", "type": "quantitative"}, "y": {"field": "y", "type": "quantitative"}, "text": {"field": "it"},
       "color": {"field": "hl", "type": "nominal", "scale": {"domain": ["changed", "stable"], "range": ["#cc00cc", "#222222"]}, "legend": null}}},
    {"data": {"name": "labels"}, "transform": [{"filter": "datum.inset == 'I3'"}],
     "mark": {"type": "text", "align": "left", "baseline": "middle", "fontSize": 11},
     "encoding": {"x": {"field": "x", "type": "quantitative"}, "y": {"field": "y", "type": "quantitative"}, "text": {"field": "rest"},
       "color": {"field": "hl", "type": "nominal", "scale": {"domain": ["changed", "stable"], "range": ["#cc00cc", "#222222"]}, "legend": null}}}
   ]
  },
  {
   "layer": [
    {"data": {"values": [{}]}, "mark": {"type": "rect", "fill": "white", "stroke": "#5a5a5a", "strokeWidth": 1},
     "encoding": {
       "x": {"datum": -0.02, "type": "quantitative", "scale": {"domain": [0, 1], "range": [488.4, 573.9], "nice": false, "zero": false},
             "axis": {"orient": "bottom", "offset": -142.5, "values": [0, 0.5, 1], "labelExpr": "datum.value == 0 ? '0' : format(datum.value, '.1f')", "domain": false, "tickSize": 3, "labelFontSize": 10.5, "labelPadding": 1, "title": "CCF (latest preTx TP)", "titleFontSize": 11.5, "titlePadding": 2}},
       "x2": {"datum": 1.04},
       "y": {"datum": -0.02, "type": "quantitative", "scale": {"domain": [0, 1], "range": [755.7, 666], "nice": false, "zero": false},
             "axis": {"orient": "left", "offset": -486.7, "values": [0, 0.5, 1], "labelExpr": "datum.value == 0 ? '0' : format(datum.value, '.1f')", "domain": false, "tickSize": 3, "labelFontSize": 10.5, "labelPadding": 1, "title": "CCF (1st relapse)", "titleFontSize": 11.5, "titlePadding": 3}},
       "y2": {"datum": 1.045}}},
    {"data": {"values": [{}]}, "mark": {"type": "rule", "color": "#3b6fd4", "strokeDash": [2, 2], "strokeWidth": 1.3},
     "encoding": {"x": {"datum": 0}, "y": {"datum": 0}, "x2": {"datum": 1}, "y2": {"datum": 1}}},
    {"data": {"name": "blobs"}, "transform": [{"filter": "datum.inset == 'I4'"}],
     "mark": {"type": "point", "filled": true, "size": 676, "strokeWidth": 0, "opacity": 1},
     "encoding": {"x": {"field": "x", "type": "quantitative"}, "y": {"field": "y", "type": "quantitative"},
       "fill": {"field": "clone", "type": "nominal", "scale": {"domain": ["del(13q)/del(11q)", "ASXL1", "amp(16p)/del(16p)", "amp(2p)/del(6q)", "subclone", "del(13q)", "Pt. 10 subclone", "Pt. 10 minor subclone"], "range": ["#c400c4", "rgba(96,126,240,0.55)", "rgba(240,150,70,0.55)", "rgba(40,40,40,0.65)", "rgba(110,200,240,0.55)", "#c400c4", "rgba(110,110,110,0.55)", "rgba(245,165,100,0.55)"]}, "legend": null},
       "shape": {"field": "spread", "type": "nominal", "scale": {"domain": ["clonal", "round", "small", "vertical", "horizontal", "tiny", "oval"], "range": ["M-0.27,0A0.27,0.27,0,1,0,0.27,0A0.27,0.27,0,1,0,-0.27,0Z", "M-0.44,0A0.44,0.44,0,1,0,0.44,0A0.44,0.44,0,1,0,-0.44,0Z", "M-0.31,0A0.31,0.31,0,1,0,0.31,0A0.31,0.31,0,1,0,-0.31,0Z", "M-0.31,0A0.31,0.92,0,1,0,0.31,0A0.31,0.92,0,1,0,-0.31,0Z", "M-1,0A1,0.31,0,1,0,1,0A1,0.31,0,1,0,-1,0Z", "M-0.38,0A0.38,0.15,0,1,0,0.38,0A0.38,0.15,0,1,0,-0.38,0Z", "M-0.35,0A0.35,0.58,0,1,0,0.35,0A0.35,0.58,0,1,0,-0.35,0Z"]}, "legend": null}}},
    {"data": {"name": "labels"}, "transform": [{"filter": "datum.inset == 'I4'"}],
     "mark": {"type": "text", "align": "right", "baseline": "middle", "fontStyle": "italic", "fontSize": 11},
     "encoding": {"x": {"field": "x", "type": "quantitative"}, "y": {"field": "y", "type": "quantitative"}, "text": {"field": "it"},
       "color": {"field": "hl", "type": "nominal", "scale": {"domain": ["changed", "stable"], "range": ["#cc00cc", "#222222"]}, "legend": null}}},
    {"data": {"name": "labels"}, "transform": [{"filter": "datum.inset == 'I4'"}],
     "mark": {"type": "text", "align": "left", "baseline": "middle", "fontSize": 11},
     "encoding": {"x": {"field": "x", "type": "quantitative"}, "y": {"field": "y", "type": "quantitative"}, "text": {"field": "rest"},
       "color": {"field": "hl", "type": "nominal", "scale": {"domain": ["changed", "stable"], "range": ["#cc00cc", "#222222"]}, "legend": null}}}
   ]
  }
 ]
}
